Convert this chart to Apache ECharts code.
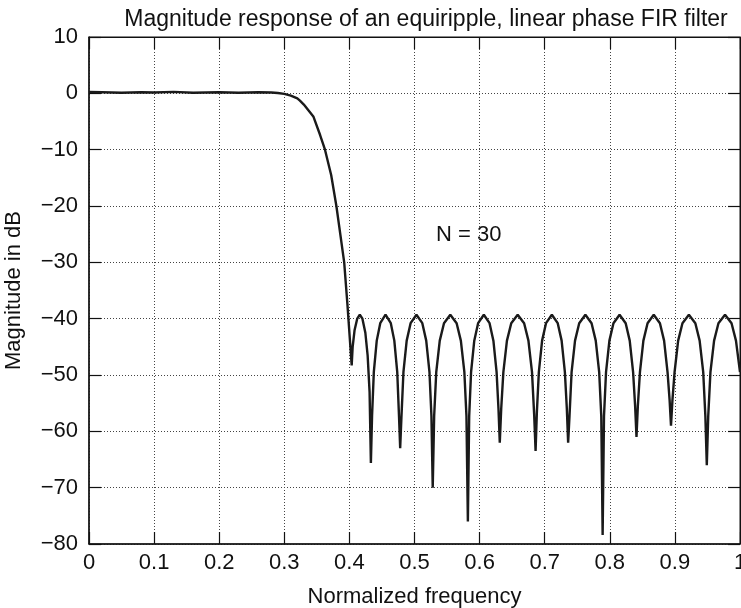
<!DOCTYPE html>
<html>
<head>
<meta charset="utf-8">
<script src="https://cdn.jsdelivr.net/npm/echarts@6/dist/echarts.min.js"></script>
<style>
  html, body { margin: 0; padding: 0; background: #fff; }
  #chart { width: 741px; height: 608px; }
</style>
</head>
<body>
<div id="chart"></div>
<script>
// frequency ticks (normalized) and dB ticks
var xTicks = [0, 0.1, 0.2, 0.3, 0.4, 0.5, 0.6, 0.7, 0.8, 0.9, 1];
var yTicks = [10, 0, -10, -20, -30, -40, -50, -60, -70, -80];

// [normalized frequency, magnitude dB]
var passband = [
    [0.00, 0.25], [0.02, 0.2], [0.05, 0.1], [0.08, 0.2], [0.10, 0.15],
    [0.13, 0.25], [0.16, 0.1], [0.20, 0.2], [0.23, 0.1], [0.26, 0.2],
    [0.28, 0.15], [0.29, 0.05], [0.30, -0.1]
];
var transition = [
    [0.310, -0.4], [0.320, -0.9], [0.324, -1.3], [0.330, -2.0], [0.3446, -4.1],
    [0.355, -7.4], [0.3625, -10.0], [0.372, -14.5], [0.380, -20.0], [0.386, -25.0],
    [0.392, -30.0], [0.397, -37.5], [0.400, -42.5]
];
var stopband = [
    [0.4035, -48.3], [0.4050, -45.0], [0.4080, -42.0], [0.4120, -40.0], [0.4160, -39.3], [0.4200, -40.0], [0.4245, -42.5], [0.4280, -46.5], [0.4310, -53.0], [0.4330, -65.6],
    [0.4348, -57.3], [0.4375, -49.5], [0.4420, -43.9], [0.4474, -40.8], [0.4555, -39.3], [0.4636, -40.8], [0.4690, -43.9], [0.4735, -49.5], [0.4762, -57.3], [0.4780, -63.0],
    [0.4800, -57.3], [0.4830, -49.5], [0.4880, -43.9], [0.4940, -40.8], [0.5030, -39.3], [0.5120, -40.8], [0.5180, -43.9], [0.5230, -49.5], [0.5260, -57.3], [0.5280, -70.0],
    [0.5302, -57.3], [0.5334, -49.5], [0.5388, -43.9], [0.5453, -40.8], [0.5550, -39.3], [0.5647, -40.8], [0.5712, -43.9], [0.5766, -49.5], [0.5798, -57.3], [0.5820, -76.0],
    [0.5840, -57.3], [0.5869, -49.5], [0.5918, -43.9], [0.5977, -40.8], [0.6065, -39.3], [0.6153, -40.8], [0.6212, -43.9], [0.6261, -49.5], [0.6290, -56.0], [0.6310, -62.0],
    [0.6332, -56.0], [0.6365, -49.5], [0.6420, -43.9], [0.6486, -40.8], [0.6585, -39.3], [0.6684, -40.8], [0.6750, -43.9], [0.6805, -49.5], [0.6838, -57.0], [0.6860, -63.5],
    [0.6880, -56.5], [0.6910, -49.5], [0.6960, -43.9], [0.7020, -40.8], [0.7110, -39.3], [0.7200, -40.8], [0.7260, -43.9], [0.7310, -49.5], [0.7340, -56.0], [0.7360, -62.0],
    [0.7381, -57.3], [0.7413, -49.5], [0.7466, -43.9], [0.7530, -40.8], [0.7625, -39.3], [0.7720, -40.8], [0.7784, -43.9], [0.7837, -49.5], [0.7869, -57.3], [0.7890, -78.4],
    [0.7911, -57.3], [0.7942, -49.5], [0.7994, -43.9], [0.8056, -40.8], [0.8150, -39.3], [0.8244, -40.8], [0.8306, -43.9], [0.8358, -49.5], [0.8389, -55.5], [0.8410, -61.0],
    [0.8431, -55.5], [0.8463, -49.5], [0.8516, -43.9], [0.8580, -40.8], [0.8675, -39.3], [0.8770, -40.8], [0.8834, -43.9], [0.8887, -49.5], [0.8919, -54.5], [0.8940, -59.0],
    [0.8962, -54.5], [0.8995, -49.5], [0.9050, -43.9], [0.9116, -40.8], [0.9215, -39.3], [0.9314, -40.8], [0.9380, -43.9], [0.9435, -49.5], [0.9468, -57.3], [0.9490, -66.0],
    [0.9512, -57.3], [0.9546, -49.5], [0.9602, -43.9], [0.9669, -40.8], [0.9770, -39.3], [0.9870, -40.8], [0.9938, -43.9], [1.0000, -49.5]
];

var response = passband.concat(transition, stopband);

var chart = echarts.init(document.getElementById('chart'));
var font = '"Liberation Sans", Arial, Helvetica, sans-serif';

function fmtNum(v) {
    return String(v).replace('-', '\u2212');
}

var option = {
    animation: false,
    backgroundColor: '#fff',
    textStyle: { fontFamily: font, color: '#000' },
    title: {
        text: 'Magnitude response of an equiripple, linear phase FIR filter',
        left: 421,
        textAlign: 'center',
        top: 3,
        textStyle: { fontFamily: font, fontSize: 23, fontWeight: 'normal', color: '#111' }
    },
    grid: {
        left: 89, right: 1, top: 37, bottom: 64,
        containLabel: false,
        outerBoundsMode: 'none',
        show: true, borderColor: '#111', borderWidth: 1
    },
    xAxis: [
        {
            type: 'value',
            min: xTicks[0], max: xTicks[xTicks.length - 1], interval: 0.1,
            name: 'Normalized frequency',
            nameLocation: 'middle',
            nameGap: 42,
            nameTextStyle: { fontFamily: font, fontSize: 22, color: '#111' },
            axisLine: { show: true, onZero: false, lineStyle: { color: '#111', width: 1.5 } },
            axisTick: { show: true, inside: true, length: 12, lineStyle: { color: '#111', width: 1.2 } },
            axisLabel: {
                fontFamily: font, fontSize: 22, color: '#111', margin: 8,
                formatter: function (v) { return fmtNum(Math.round(v * 10) / 10); }
            },
            splitLine: { show: true, lineStyle: { color: '#444', type: [1, 2], width: 1 } }
        },
        {
            type: 'value', position: 'top',
            min: xTicks[0], max: xTicks[xTicks.length - 1], interval: 0.1,
            axisLine: { show: true, onZero: false, lineStyle: { color: '#111' } },
            axisTick: { show: true, inside: true, length: 12, lineStyle: { color: '#111', width: 1.2 } },
            axisLabel: { show: false },
            splitLine: { show: false }
        }
    ],
    yAxis: [
        {
            type: 'value',
            min: yTicks[yTicks.length - 1], max: yTicks[0], interval: 10,
            name: 'Magnitude in dB',
            nameLocation: 'middle',
            nameGap: 64,
            nameTextStyle: { fontFamily: font, fontSize: 22, color: '#111' },
            axisLine: { show: true, onZero: false, lineStyle: { color: '#111', width: 1.5 } },
            axisTick: { show: true, inside: true, length: 12, lineStyle: { color: '#111', width: 1.2 } },
            axisLabel: {
                fontFamily: font, fontSize: 22, color: '#111', margin: 11,
                formatter: fmtNum
            },
            splitLine: { show: true, lineStyle: { color: '#444', type: [1, 2], width: 1 } }
        },
        {
            type: 'value', position: 'right',
            min: yTicks[yTicks.length - 1], max: yTicks[0], interval: 10,
            axisLine: { show: true, onZero: false, lineStyle: { color: '#111' } },
            axisTick: { show: true, inside: true, length: 12, lineStyle: { color: '#111', width: 1.2 } },
            axisLabel: { show: false },
            splitLine: { show: false }
        }
    ],
    series: [
        {
            name: 'Magnitude',
            type: 'line',
            xAxisIndex: 0,
            yAxisIndex: 0,
            data: response,
            showSymbol: false,
            smooth: false,
            lineStyle: { color: '#1a1a1a', width: 2.4 }
        }
    ],
    graphic: [
        {
            type: 'text',
            left: 436,
            top: 224,
            style: { text: 'N = 30', font: '22px ' + font, fill: '#111' }
        }
    ]
};

chart.setOption(option);
</script>
</body>
</html>
